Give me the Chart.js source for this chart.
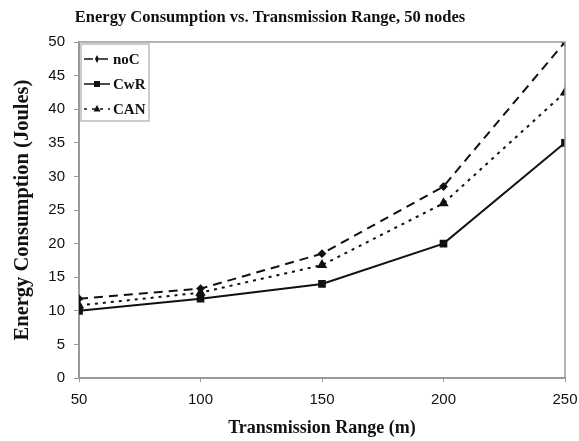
<!DOCTYPE html>
<html><head><meta charset="utf-8">
<script src="https://cdn.jsdelivr.net/npm/chart.js@4.4.1/dist/chart.umd.min.js"></script>
<style>html,body{margin:0;padding:0;background:#fff}#w{width:579px;height:441px}</style>
</head><body><div id="w"><canvas id="c" width="579" height="441"></canvas></div>
<script>
const titleText = "Energy Consumption vs. Transmission Range, 50 nodes";
const xTitle = "Transmission Range (m)";
const yTitle = "Energy Consumption (Joules)";
const ranges = [50, 100, 150, 200, 250];
const noC = [11.8, 13.3, 18.5, 28.5, 50];
const CwR = [10, 11.8, 14, 20, 35];
const CAN = [10.8, 12.7, 16.8, 26, 42.5];
const seriesNames = ["noC", "CwR", "CAN"];

const serif = "'Liberation Serif', 'Times New Roman', serif";
const sans = "'Liberation Sans', Arial, sans-serif";

function pts(vals){ return ranges.map((x,i)=>({x:x,y:vals[i]})); }

const frame = {
  id:'frame',
  afterDraw(chart){
    const {ctx, chartArea:a} = chart;
    ctx.save();
    ctx.strokeStyle = '#9a9a9a'; ctx.lineWidth = 1.5;
    ctx.beginPath();
    ctx.moveTo(a.left, a.top); ctx.lineTo(a.right, a.top); ctx.lineTo(a.right, a.bottom);
    ctx.stroke();
    // title
    ctx.fillStyle = '#111';
    ctx.font = "bold 16.5px " + serif;
    ctx.textAlign = 'center'; ctx.textBaseline = 'middle';
    ctx.fillText(titleText, 270, 18);
    // legend
    const lx = 81, ly = 44, lw = 68, lh = 77;
    ctx.strokeStyle = '#9a9a9a'; ctx.lineWidth = 1;
    ctx.strokeRect(lx, ly, lw, lh);
    const ds = chart.data.datasets;
    const ys = [59, 84, 109];
    ds.forEach((d,i)=>{
      const y = ys[i];
      ctx.strokeStyle = '#111'; ctx.lineWidth = 1.5;
      ctx.setLineDash(d.borderDash || []);
      ctx.beginPath(); ctx.moveTo(84, y); ctx.lineTo(110, y); ctx.stroke();
      ctx.setLineDash([]);
      ctx.fillStyle = '#111';
      const cx = 97;
      if (d.pointStyle === 'rect') { ctx.fillRect(cx-3, y-3, 6, 6); }
      else if (d.pointStyle === 'triangle') { ctx.beginPath(); ctx.moveTo(cx, y-4); ctx.lineTo(cx+3.5, y+2.5); ctx.lineTo(cx-3.5, y+2.5); ctx.closePath(); ctx.fill(); }
      else { ctx.beginPath(); ctx.moveTo(cx, y-4); ctx.lineTo(cx+2, y); ctx.lineTo(cx, y+4); ctx.lineTo(cx-2, y); ctx.closePath(); ctx.fill(); }
      ctx.font = "bold 15px " + serif;
      ctx.textAlign = 'left'; ctx.textBaseline = 'middle';
      ctx.fillText(d.label, 113, y+1);
    });
    ctx.restore();
  }
};

new Chart(document.getElementById('c'), {
  type: 'line',
  data: {
    datasets: [
      {label: seriesNames[0], data: pts(noC), borderColor:'#111', backgroundColor:'#111', borderWidth:2, borderDash:[9,6], pointStyle:'rectRot', pointRadius:3},
      {label: seriesNames[1], data: pts(CwR), borderColor:'#111', backgroundColor:'#111', borderWidth:2, pointStyle:'rect', pointRadius:4},
      {label: seriesNames[2], data: pts(CAN), borderColor:'#111', backgroundColor:'#111', borderWidth:2, borderDash:[3,5], pointStyle:'triangle', pointRadius:4}
    ]
  },
  options: {
    responsive:false, animation:false, devicePixelRatio:1,
    layout:{padding:{top:42, right:14, bottom:2, left:0}},
    plugins:{legend:{display:false}, title:{display:false}, tooltip:{enabled:false}},
    scales:{
      x:{type:'linear', min:50, max:250,
         ticks:{stepSize:50, color:'#111', font:{family:sans, size:15}, padding:9, maxRotation:0},
         grid:{display:true, drawOnChartArea:false, drawTicks:true, tickLength:4, color:'#9a9a9a'},
         border:{color:'#9a9a9a', width:2},
         title:{display:true, text:xTitle, color:'#111', font:{family:serif, size:18, weight:'bold'}, padding:{top:2,bottom:0}},
         afterFit(s){ s.height = 61; s.paddingLeft = 0; s.paddingRight = 0; }
      },
      y:{min:0, max:50,
         ticks:{stepSize:5, color:'#111', font:{family:sans, size:15}, padding:9},
         grid:{display:true, drawOnChartArea:false, drawTicks:true, tickLength:5, color:'#9a9a9a'},
         border:{color:'#9a9a9a', width:2},
         title:{display:true, text:yTitle, color:'#111', font:{family:serif, size:20.5, weight:'bold'}, padding:{top:10,bottom:4}},
         afterFit(s){ s.width = 79; s.paddingTop = 0; s.paddingBottom = 0; }
      }
    }
  },
  plugins:[frame]
});
</script></body></html>
